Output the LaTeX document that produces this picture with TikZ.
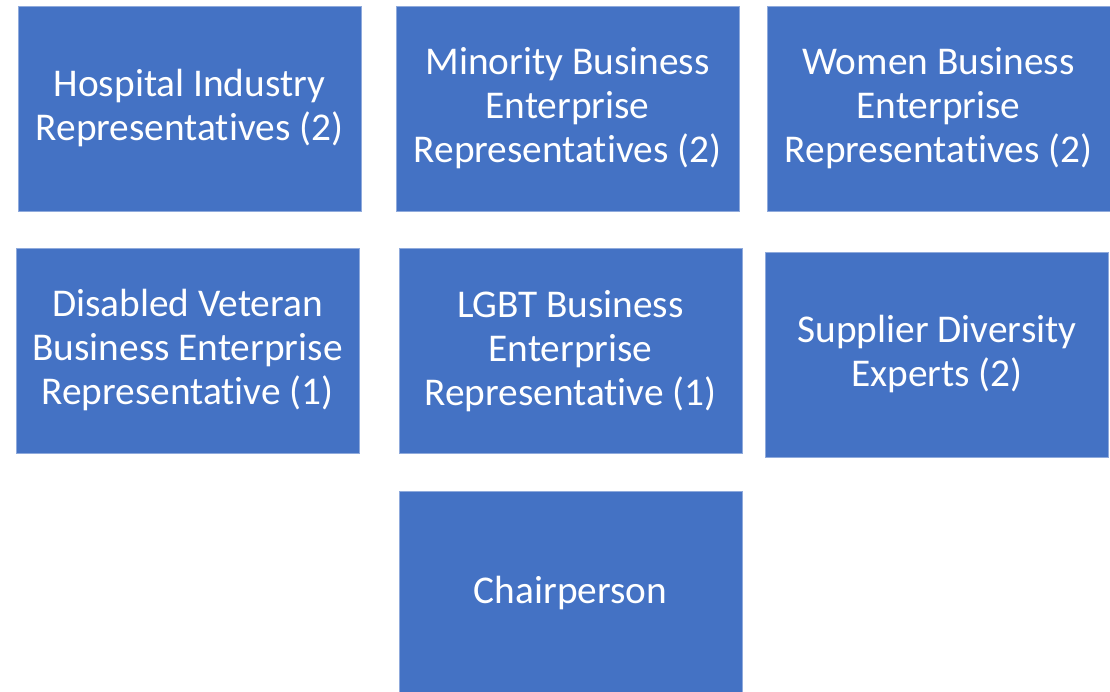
\documentclass[tikz,border=0pt]{standalone}
\usepackage{fontspec}
\setmainfont{Carlito}[Ligatures=NoCommon]
\definecolor{boxblue}{HTML}{4472C4}
\tikzset{
	member/.style={rectangle,fill=boxblue,draw=boxblue!60!white,line width=0.4pt,text=white,
		inner sep=0pt,minimum width=257pt,minimum height=153.5pt,align=center,
		font=\fontsize{29.5}{33}\selectfont},
}
\begin{document}
\begin{tikzpicture}[x=0.75pt,y=-0.75pt]
\useasboundingbox (0,0) rectangle (1110,692);

\node[member] (hosp) at (189.5,108.5) {Hospital Industry\\Representatives (2)};
\node[member] (mbe) at (567.5,108.5) {Minority Business\\Enterprise\\Representatives (2)};
\node[member] (wbe) at (938.5,108.5) {Women Business\\Enterprise\\Representatives (2)};

\node[member] (dvbe) at (187.5,350.5) {Disabled Veteran\\Business Enterprise\\Representative (1)};
\node[member] (lgbt) at (570.5,351) {LGBT Business\\Enterprise\\Representative (1)};
\node[member] (sde) at (937,354.5) {Supplier Diversity\\Experts (2)};

\node[member] (chair) at (570.5,593.5) {Chairperson};
\end{tikzpicture}
\end{document}
